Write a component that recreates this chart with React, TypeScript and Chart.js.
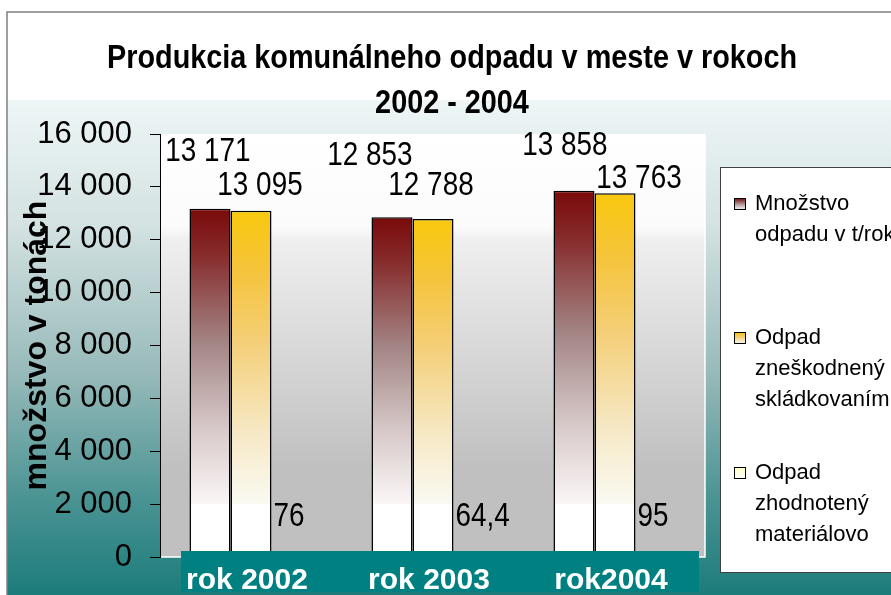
import React, { useEffect, useRef } from "react";
import { Chart, registerables } from "chart.js";
Chart.register(...registerables);

// ---- data ----
const categories = ["rok 2002", "rok 2003", "rok2004"];
const totalWaste = [13171, 12853, 13858];
const landfilled = [13095, 12788, 13763];
const recovered = [76, 64.4, 95];
const seriesLabels = ["Množstvo odpadu v t/rok", "Odpad zneškodnený skládkovaním", "Odpad zhodnotený materiálovo"];
const legendLines = [["Množstvo", "odpadu v t/rok"], ["Odpad", "zneškodnený", "skládkovaním"], ["Odpad", "zhodnotený", "materiálovo"]];
const titleLines = ["Produkcia komunálneho odpadu v meste v rokoch", "2002 - 2004"];
const yTitle = "množstvo v tonách";
const yMax = 16000;
const yStep = 2000;

// ---- style (label placement offsets, px) ----
const labelOffsets = [
  [[-2, -57], [-22, -62], [-9, -45]],
  [[9, -25], [-2, -33], [24, -15]],
  [[0, -40], [0, -40], [0, -40]],
];

function fmt(v: number): string {
  if (Number.isInteger(v)) return String(v).replace(/\B(?=(\d{3})+(?!\d))/g, " ");
  return String(v).replace(".", ",");
}

function scaledText(ctx: CanvasRenderingContext2D, text: string, x: number, y: number, font: string, sx: number, align: CanvasTextAlign) {
  ctx.save();
  ctx.font = font;
  ctx.textBaseline = "middle";
  ctx.textAlign = align;
  ctx.translate(x, y);
  ctx.scale(sx, 1);
  ctx.fillText(text, 0, 0);
  ctx.restore();
}

const redStops: [number, string][] = [[0, "#7a0a0a"], [0.15, "#862a2a"], [0.45, "#a38484"], [0.75, "#d8caca"], [1, "#fbf6f6"]];
const orangeStops: [number, string][] = [[0, "#f9c80e"], [0.2, "#f5c43a"], [0.45, "#f4cf78"], [0.75, "#f6e8c4"], [1, "#fafaf2"]];
const yellowStops: [number, string][] = [[0, "#ffffc0"], [1, "#ffffff"]];

function barGradient(stops: [number, string][]) {
  return (c: any) => {
    const chart = c.chart;
    if (!chart.chartArea || c.raw == null) return stops[0][1];
    const ys = chart.scales.y;
    const top = ys.getPixelForValue(c.raw);
    const base = ys.getPixelForValue(0);
    const whiteAt = ys.getPixelForValue(2000);
    const g = chart.ctx.createLinearGradient(0, top, 0, base);
    const span = base - top;
    const f = span > 0 ? Math.max(0.01, Math.min(1, (whiteAt - top) / span)) : 1;
    stops.forEach(([p, col]) => g.addColorStop(p * f, col));
    g.addColorStop(Math.min(1, f + 0.001), "#ffffff");
    g.addColorStop(1, "#ffffff");
    return g;
  };
}

const decorPlugin = {
  id: "decor",
  beforeDraw(chart: any) {
    const ctx = chart.ctx as CanvasRenderingContext2D;
    const W = chart.width, H = chart.height;
    const a = chart.chartArea;
    ctx.save();
    ctx.fillStyle = "#ffffff";
    ctx.fillRect(0, 0, W, H);
    const g = ctx.createLinearGradient(0, 100, 0, H);
    g.addColorStop(0, "#eef6f6");
    g.addColorStop(0.25, "#d4e2e2");
    g.addColorStop(0.55, "#98baba");
    g.addColorStop(0.8, "#4c9494");
    g.addColorStop(1, "#1c7c7a");
    ctx.fillStyle = g;
    ctx.fillRect(7, 100, W, H - 100);
    // frame
    ctx.strokeStyle = "#808080";
    ctx.lineWidth = 1.5;
    ctx.beginPath();
    ctx.moveTo(7, H);
    ctx.lineTo(7, 12);
    ctx.lineTo(W, 12);
    ctx.stroke();
    // plot area
    const pr = 705;
    const pg = ctx.createLinearGradient(0, a.top, 0, a.bottom);
    pg.addColorStop(0, "#ffffff");
    pg.addColorStop(0.22, "#fbfbfb");
    pg.addColorStop(0.25, "#efefef");
    pg.addColorStop(0.79, "#c0c0c0");
    pg.addColorStop(1, "#c0c0c0");
    ctx.fillStyle = pg;
    ctx.fillRect(a.left, a.top, pr - a.left, a.bottom - a.top);
    ctx.strokeStyle = "#ffffff";
    ctx.lineWidth = 1.5;
    ctx.beginPath();
    ctx.moveTo(pr, a.top);
    ctx.lineTo(pr, a.bottom);
    ctx.lineTo(a.left, a.bottom);
    ctx.stroke();
    ctx.restore();
  },
  afterDatasetsDraw(chart: any) {
    const ctx = chart.ctx as CanvasRenderingContext2D;
    const xs = chart.scales.x;
    ctx.save();
    // teal category band
    ctx.fillStyle = "#008080";
    ctx.fillRect(181, 551, 699 - 181, 41);
    // category labels
    ctx.fillStyle = "#ffffff";
    ctx.font = "bold 30px 'Liberation Sans', Arial, sans-serif";
    ctx.textAlign = "center";
    ctx.textBaseline = "alphabetic";
    categories.forEach((c, i) => {
      ctx.fillText(c, xs.getPixelForValue(i) - 4, 589);
    });
    // value labels
    ctx.fillStyle = "#000000";
    chart.data.datasets.forEach((ds: any, di: number) => {
      const meta = chart.getDatasetMeta(di);
      meta.data.forEach((bar: any, i: number) => {
        const v = ds.data[i];
        const [dx, dy] = labelOffsets[di][i];
        const font = "34px 'Liberation Sans', Arial, sans-serif";
        if (di === 2) {
          scaledText(ctx, fmt(v), bar.x - bar.width / 2 + 2, bar.base + dy, font, 0.82, "left");
        } else {
          scaledText(ctx, fmt(v), bar.x + dx, bar.y + dy, font, 0.82, "center");
        }
      });
    });
    ctx.restore();
  },
  afterDraw(chart: any) {
    const ctx = chart.ctx as CanvasRenderingContext2D;
    const a = chart.chartArea;
    ctx.save();
    // title
    ctx.fillStyle = "#000000";
    ctx.font = "bold 34px 'Liberation Sans', Arial, sans-serif";
    const w = ctx.measureText(titleLines[0]).width;
    const sx = 690 / w;
    ctx.textBaseline = "alphabetic";
    ctx.textAlign = "center";
    [68, 113].forEach((by, i) => {
      ctx.save();
      ctx.translate(452, by);
      ctx.scale(sx, 1);
      ctx.fillText(titleLines[i], 0, 0);
      ctx.restore();
    });
    // y title
    ctx.save();
    ctx.translate(37, (a.top + a.bottom) / 2);
    ctx.rotate(-Math.PI / 2);
    ctx.font = "bold 32px 'Liberation Sans', Arial, sans-serif";
    ctx.textAlign = "center";
    ctx.textBaseline = "middle";
    ctx.fillText(yTitle, 0, 0);
    ctx.restore();
    // legend
    ctx.fillStyle = "#ffffff";
    ctx.fillRect(720, 167, 200, 405);
    ctx.strokeStyle = "#404040";
    ctx.lineWidth = 1;
    ctx.strokeRect(720.5, 167.5, 200, 405);
    const stopsList = [redStops, orangeStops, yellowStops];
    const entryY = [204, 338, 473];
    const lineGap = 31;
    legendLines.forEach((lines, i) => {
      const my = entryY[i];
      const g = ctx.createLinearGradient(0, my - 6, 0, my + 6);
      stopsList[i].forEach(([p, col]) => g.addColorStop(p, col));
      ctx.fillStyle = g;
      ctx.fillRect(734, my - 6, 11, 11);
      ctx.strokeStyle = "#000000";
      ctx.strokeRect(734.5, my - 5.5, 11, 11);
      ctx.fillStyle = "#000000";
      ctx.font = "22px 'Liberation Sans', Arial, sans-serif";
      ctx.textAlign = "left";
      ctx.textBaseline = "middle";
      lines.forEach((t, j) => ctx.fillText(t, 755, my + j * lineGap));
    });
    ctx.restore();
  },
};

export default function App() {
  const ref = useRef<HTMLCanvasElement | null>(null);
  useEffect(() => {
    document.body.style.margin = "0";
    const canvas = ref.current!;
    const chart = new Chart(canvas, {
      type: "bar",
      data: {
        labels: categories,
        datasets: [
          { label: seriesLabels[0], data: totalWaste, backgroundColor: barGradient(redStops), borderColor: "#000000", borderWidth: 1.5 },
          { label: seriesLabels[1], data: landfilled, backgroundColor: barGradient(orangeStops), borderColor: "#000000", borderWidth: 1.5 },
          { label: seriesLabels[2], data: recovered, backgroundColor: barGradient(yellowStops), borderColor: "#000000", borderWidth: 1.5 },
        ],
      },
      options: {
        responsive: false,
        animation: false,
        events: [],
        layout: { padding: { top: 134, right: 185, left: 0, bottom: 0 } },
        datasets: { bar: { categoryPercentage: 0.676, barPercentage: 1.0 } },
        plugins: { legend: { display: false }, title: { display: false }, tooltip: { enabled: false } },
        scales: {
          x: {
            grid: { display: false },
            border: { display: false },
            ticks: { display: false },
            afterFit: (s: any) => { s.height = 38; },
          },
          y: {
            min: 0,
            max: yMax,
            afterFit: (s: any) => { s.width = 160; },
            border: { display: true, color: "#000000", width: 1 },
            grid: { drawOnChartArea: false, drawTicks: true, tickLength: 10, color: "#000000" },
            ticks: {
              stepSize: yStep,
              color: "#000000",
              padding: 18,
              font: { family: "'Liberation Sans', Arial, sans-serif", size: 31 },
              callback: (v: any) => fmt(Number(v)),
            },
          },
        },
      },
      plugins: [decorPlugin],
    });
    return () => chart.destroy();
  }, []);
  return (
    <div style={{ width: 891, height: 595 }}>
      <canvas ref={ref} width={891} height={595} style={{ display: "block" }} />
    </div>
  );
}
